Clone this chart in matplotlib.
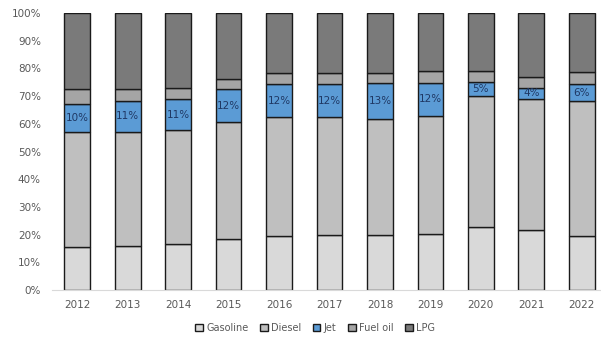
import matplotlib.pyplot as plt
import numpy as np
from matplotlib.ticker import PercentFormatter

years = ['2012', '2013', '2014', '2015', '2016', '2017',
         '2018', '2019', '2020', '2021', '2022']
gasoline = [15.6, 16.0, 16.5, 18.5, 19.5, 20.0, 20.0, 20.3, 22.7, 21.8, 19.6]
diesel = [41.6, 41.2, 41.3, 42.1, 42.8, 42.3, 41.7, 42.6, 47.3, 47.2, 48.6]
jet = [10, 11, 11, 12, 12, 12, 13, 12, 5, 4, 6]
fuel_oil = [5.3, 4.3, 4.1, 3.7, 4.2, 4.2, 3.6, 4.1, 4.2, 3.8, 4.5]
lpg = [27.5, 27.5, 27.1, 23.7, 21.5, 21.5, 21.7, 21.0, 20.8, 23.2, 21.3]

series = [
    ('Gasoline', gasoline, '#d9d9d9'),
    ('Diesel', diesel, '#bfbfbf'),
    ('Jet', jet, '#5b9bd5'),
    ('Fuel oil', fuel_oil, '#a5a5a5'),
    ('LPG', lpg, '#7a7a7a'),
]

fig = plt.figure(figsize=(6.01, 3.37), dpi=100)
ax = fig.add_axes([52 / 601, 47 / 337, 555 / 601, 277 / 337])

x = np.arange(len(years))
bottom = np.zeros(len(years))
for name, vals, color in series:
    vals = np.array(vals, dtype=float)
    bars = ax.bar(x, vals, 0.51, bottom=bottom, color=color,
                  edgecolor='#1a1a1a', linewidth=1.0, label=name)
    if name == 'Jet':
        for xi, b, v in zip(x, bottom, vals):
            ax.text(xi, b + v / 2, f'{v:.0f}%', ha='center', va='center',
                    fontsize=7.5, color='#1f3864')
    bottom += vals

ax.set_xlim(-0.5, len(years) - 0.5)
ax.set_ylim(0, 100)
ax.set_yticks(range(0, 101, 10))
ax.yaxis.set_major_formatter(PercentFormatter(decimals=0))
ax.set_xticks(x)
ax.set_xticklabels(years)
ax.tick_params(length=0, labelsize=7.5, labelcolor='#595959')
ax.tick_params(axis='x', pad=7)
ax.tick_params(axis='y', pad=8)
for side in ['top', 'right', 'left']:
    ax.spines[side].set_visible(False)
ax.spines['bottom'].set_color('#d9d9d9')

ax.legend(loc='center', bbox_to_anchor=(315 / 601, 9 / 337),
          bbox_transform=fig.transFigure, ncol=5, frameon=False,
          fontsize=7, labelcolor='#595959', handlelength=0.8,
          handleheight=0.8, handletextpad=0.3, columnspacing=1.2)

fig.savefig('out.png', dpi=100)
